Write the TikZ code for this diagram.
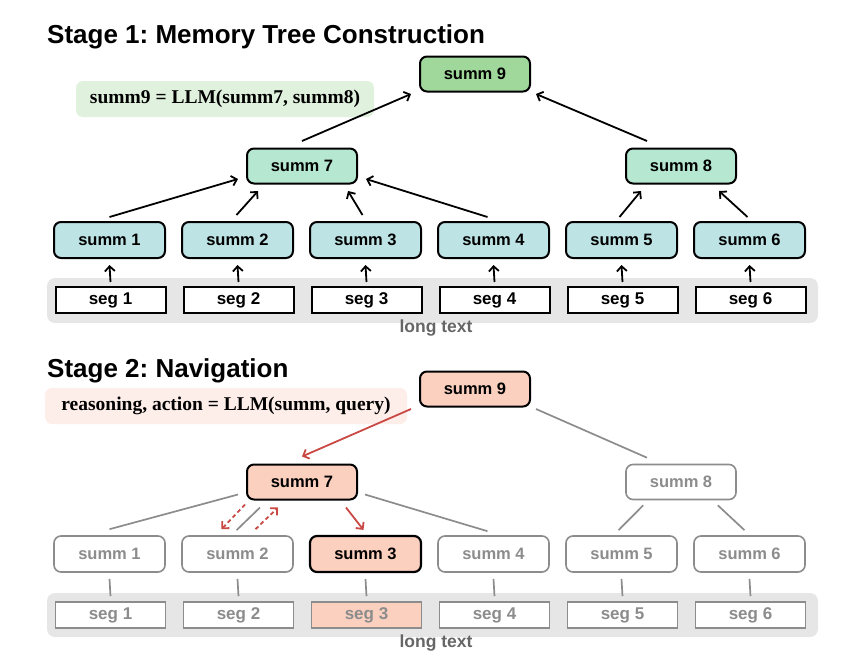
\documentclass[tikz,border=0pt]{standalone}
\usepackage{fontspec}
\setmainfont{Liberation Sans}
\newfontfamily\formfont{Liberation Serif}
\usetikzlibrary{arrows.meta,calc}
\definecolor{greenN}{HTML}{A0D89B}
\definecolor{mint}{HTML}{B5E7D1}
\definecolor{teal}{HTML}{BDE3E5}
\definecolor{formgreen}{HTML}{E0F2DD}
\definecolor{salmon}{HTML}{FBD0BF}
\definecolor{formpink}{HTML}{FDEEEA}
\definecolor{graytxt}{HTML}{8C8C8C}
\definecolor{bggray}{HTML}{E6E6E6}
\definecolor{redarr}{HTML}{C94A45}
\definecolor{longtxt}{HTML}{666666}
\tikzset{
  summbox/.style={draw=black, line width=2pt, rounded corners=7pt, minimum width=110pt, minimum height=35pt, inner sep=0pt, font=\bfseries\fontsize{16.5}{18}\selectfont},
  segbox/.style={draw=black, line width=2pt, fill=white, minimum width=110pt, minimum height=26pt, inner sep=0pt, font=\bfseries\fontsize{17}{18}\selectfont},
  ghost/.style={draw=graytxt, text=graytxt, line width=1.6pt},
  blk/.style={line width=1.8pt, -{Straight Barb[length=5pt,width=10pt,line width=1.8pt]}},
  gline/.style={graytxt, line width=1.7pt},
  rarr/.style={redarr, line width=1.8pt, -{Straight Barb[length=5pt,width=10pt,line width=1.8pt]}},
  rdash/.style={redarr, line width=1.8pt, dash pattern=on 4pt off 3pt, -{Straight Barb[length=5pt,width=10pt,line width=1.8pt]}},
  title/.style={anchor=base west, inner sep=0pt, font=\bfseries\fontsize{26}{30}\selectfont},
  longlbl/.style={text=longtxt, inner sep=0pt, font=\bfseries\fontsize{17.5}{19}\selectfont},
  formula/.style={rounded corners=7pt, inner sep=0pt, font=\formfont\bfseries\fontsize{19.5}{22}\selectfont},
}
\begin{document}
\frenchspacing
\begin{tikzpicture}[x=1pt,y=-1pt]
\useasboundingbox (0,0) rectangle (857,664);
% ---------------- Stage 1 ----------------
\node[title] (t1) at (47,43) {Stage 1: Memory Tree Construction};
\node[formula, fill=formgreen, minimum width=298pt, minimum height=36pt] (f1) at (225,99) {summ9 = LLM(summ7, summ8)};
\fill[bggray, rounded corners=8pt] (47,278) rectangle (818,323);
\node[longlbl] (l1) at (436,328) {long text};

\node[summbox, fill=greenN] (a9) at (475,74) {summ 9};
\node[summbox, fill=mint] (a7) at (302,166) {summ 7};
\node[summbox, fill=mint] (a8) at (681,166) {summ 8};
\foreach \i in {1,...,6}{
  \node[summbox, fill=teal, minimum width=111pt, minimum height=36pt] (a\i) at ({109.5+128*(\i-1)},240) {summ \i};
  \node[segbox] (g\i) at ({110.5+128*(\i-1)},300) {seg \i};
  \draw[blk] ($(g\i.north)+(0,-4)$) -- ($(a\i.south)+(0,6)$);
}
\draw[blk] ($(a1.north)+(0,-4)$) -- ($(a7.south west)+(-8,-5.5)$);
\draw[blk] ($(a2.north)+(-1,-6)$) -- ($(a7.south west)+(12,6.5)$);
\draw[blk] ($(a3.north)+(-3,-6)$) -- ($(a7.south east)+(-10,6.5)$);
\draw[blk] ($(a4.north)+(-6,-4)$) -- ($(a7.south east)+(8,-5.5)$);
\draw[blk] ($(a7.north)+(0,-6.5)$) -- ($(a9.south west)+(-8,1.5)$);
\draw[blk] ($(a8.north)+(-34,-6.5)$) -- ($(a9.south east)+(5,1.5)$);
\draw[blk] ($(a5.north)+(-2,-4)$) -- ($(a8.south west)+(16,6.5)$);
\draw[blk] ($(a6.north)+(-2,-4)$) -- ($(a8.south east)+(-18,6.5)$);

% ---------------- Stage 2 ----------------
\node[title] (t2) at (47,377) {Stage 2: Navigation};
\node[formula, fill=formpink, minimum width=362pt, minimum height=36pt] (f2) at (226,406) {reasoning, action = LLM(summ, query)};
\fill[bggray, rounded corners=8pt] (47,593) rectangle (818,637);
\node[longlbl] (l2) at (436,643) {long text};

\node[summbox, fill=salmon] (b9) at (475,389) {summ 9};
\node[summbox, fill=salmon] (b7) at (302,482) {summ 7};
\node[summbox, ghost, fill=white] (b8) at (681,482) {summ 8};
\foreach \i in {1,2,4,5,6}{
  \node[summbox, ghost, fill=white, minimum width=111pt, minimum height=36pt] (b\i) at ({109.5+128*(\i-1)},554) {summ \i};
}
\node[summbox, fill=salmon, line width=2.2pt, minimum width=111pt, minimum height=36pt] (b3) at (365.5,554) {summ 3};
\foreach \i in {1,2,4,5,6}{
  \node[segbox, ghost] (h\i) at ({110.5+128*(\i-1)},615) {seg \i};
}
\node[segbox, ghost, fill=salmon] (h3) at (366.5,615) {seg 3};
\foreach \i in {1,...,6}{
  \draw[gline] ($(b\i.south)+(0,6)$) -- ($(h\i.north)+(0,-5)$);
}
\draw[rarr] ($(b9.south west)+(-8,1.5)$) -- ($(b7.north)+(0,-7)$);
\draw[gline] ($(b9.south east)+(5,1.5)$) -- ($(b8.north)+(-34,-6)$);
\draw[gline] ($(b7.south west)+(-8,-6)$) -- ($(b1.north)+(0,-6)$);
\draw[gline] ($(b7.south west)+(14,7)$) -- ($(b2.north)+(-1,-5)$);
\draw[rdash] ($(b7.south west)+(-1,4)$) -- ($(b2.north)+(-16,-6)$);
\draw[rdash] ($(b2.north)+(18,-6)$) -- ($(b7.south west)+(32,7)$);
\draw[rarr] ($(b7.south east)+(-12,7)$) -- ($(b3.north)+(-2,-5)$);
\draw[gline] ($(b7.south east)+(7,-6)$) -- ($(b4.north)+(-6,-4)$);
\draw[gline] ($(b8.south west)+(18,5)$) -- ($(b5.north)+(-3,-5)$);
\draw[gline] ($(b8.south east)+(-19,5)$) -- ($(b6.north)+(-5,-5)$);
\end{tikzpicture}
\end{document}
